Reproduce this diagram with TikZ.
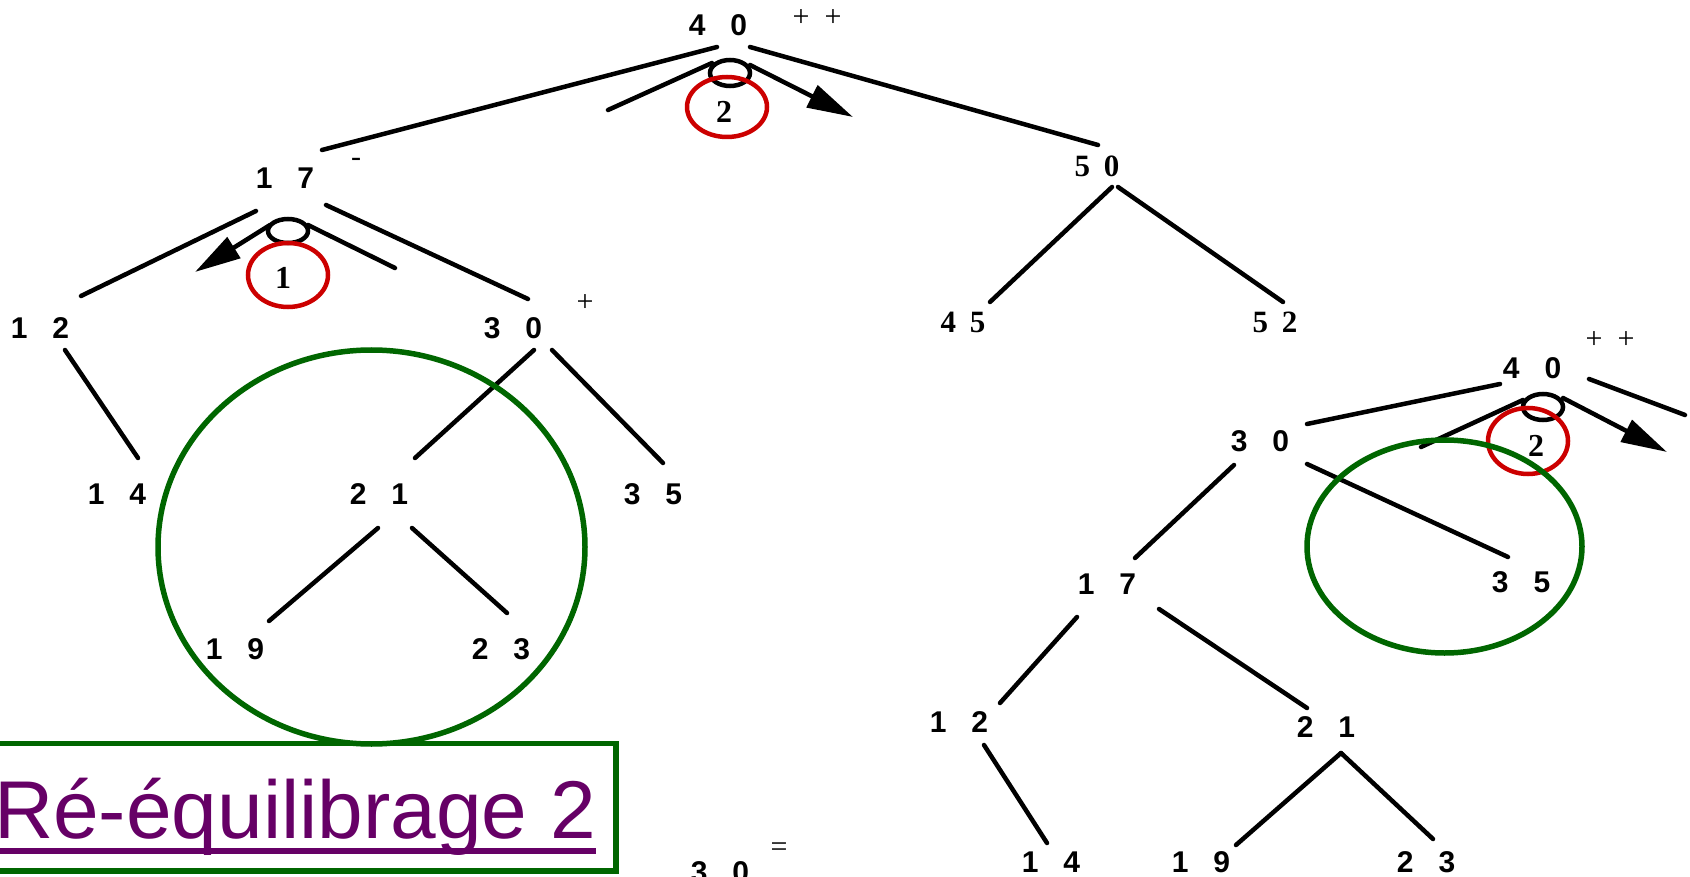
\documentclass[tikz,border=0pt]{standalone}
\usepackage{fontspec}
\setmainfont{Liberation Serif}
\newfontfamily\sansfam{Liberation Sans}
\usetikzlibrary{arrows.meta,calc}

\definecolor{treegreen}{RGB}{0,102,0}
\definecolor{rotred}{RGB}{204,0,0}
\definecolor{titlepurple}{RGB}{102,0,102}

% two-digit keys, digits set apart
\newcommand{\keypair}[2]{#1\hspace{25pt}#2}
\newcommand{\serifpair}[2]{#1\hspace{14pt}#2}

\tikzset{
  key/.style={inner sep=0pt, font=\sansfam\bfseries\fontsize{30}{31}\selectfont},
  skey/.style={inner sep=0pt, font=\bfseries\fontsize{31}{32}\selectfont},
  bal/.style={inner sep=0pt, font=\fontsize{30}{30}\selectfont},
  rotnum/.style={inner sep=0pt, font=\bfseries\fontsize{32}{33}\selectfont},
  edge/.style={line width=4.5pt, line cap=round},
  rotarrow/.style={line width=4.5pt, line cap=round, -{Triangle[length=46pt,width=24pt]}},
  pivot/.style={line width=4.5pt},
  redring/.style={draw=rotred, line width=4.5pt},
  greenring/.style={draw=treegreen, line width=5.5pt},
}

\begin{document}
\begin{tikzpicture}[x=1pt, y=-1pt]
\useasboundingbox (0,0) rectangle (1690,877);

% ---------------- first tree ----------------
\node[key] (n40) at (718,25)  {\keypair{4}{0}};
\node[key] (n17) at (285,178) {\keypair{1}{7}};
\node[key] (n12) at (40,328)  {\keypair{1}{2}};
\node[key] (n30) at (513,328) {\keypair{3}{0}};
\node[key] (n14) at (117,494) {\keypair{1}{4}};
\node[key] (n21) at (379,494) {\keypair{2}{1}};
\node[key] (n35) at (653,494) {\keypair{3}{5}};
\node[key] (n19) at (235,649) {\keypair{1}{9}};
\node[key] (n23) at (501,649) {\keypair{2}{3}};
\node[skey] (n50) at (1097,166) {\serifpair{5}{0}};
\node[skey] (n45) at (963,322)  {\serifpair{4}{5}};
\node[skey] (n52) at (1275,322) {\serifpair{5}{2}};

% balance marks
\node[bal] (b40) at (817,18)  {+\hspace{15pt}+};
\node[bal] (b17) at (356,162) {-};
\node[bal] (b30) at (585,303) {+};

% edge end points
\coordinate (e40a) at (717,47);   \coordinate (e17a) at (322,150);
\coordinate (e40b) at (750,47);   \coordinate (e50a) at (1098,145);
\coordinate (e17b) at (256,211);  \coordinate (e12a) at (81,296);
\coordinate (e17c) at (326,205);  \coordinate (e30a) at (528,299);
\coordinate (e12b) at (65,350);   \coordinate (e14a) at (138,458);
\coordinate (e30b) at (534,350);  \coordinate (e21a) at (415,458);
\coordinate (e30c) at (552,350);  \coordinate (e35a) at (663,463);
\coordinate (e21b) at (378,528);  \coordinate (e19a) at (269,621);
\coordinate (e21c) at (412,528);  \coordinate (e23a) at (507,613);
\coordinate (e50b) at (1112,187); \coordinate (e45a) at (990,302);
\coordinate (e50c) at (1118,187); \coordinate (e52a) at (1283,302);

\draw[edge] (e40a) -- (e17a);
\draw[edge] (e40b) -- (e50a);
\draw[edge] (e17b) -- (e12a);
\draw[edge] (e17c) -- (e30a);
\draw[edge] (e12b) -- (e14a);
\draw[edge] (e30b) -- (e21a);
\draw[edge] (e30c) -- (e35a);
\draw[edge] (e21b) -- (e19a);
\draw[edge] (e21c) -- (e23a);
\draw[edge] (e50b) -- (e45a);
\draw[edge] (e50c) -- (e52a);

% rotation at the root
\coordinate (p40) at (730,73);
\coordinate (r40a) at (712,63);  \coordinate (r40b) at (608,110);
\coordinate (r40c) at (750,65);  \coordinate (r40d) at (853,117);
\draw[edge] (r40a) -- (r40b);
\draw[pivot] (p40) ellipse [x radius=20pt, y radius=13pt];
\draw[rotarrow] (r40c) -- (r40d);
\node[rotnum] (k40) at (724,112) {2};
\draw[redring] (727,107) ellipse [x radius=40pt, y radius=30pt];

% rotation at 17
\coordinate (p17) at (288,231);
\coordinate (r17a) at (308,225); \coordinate (r17b) at (395,268);
\coordinate (r17c) at (270,225); \coordinate (r17d) at (195,272);
\draw[edge] (r17a) -- (r17b);
\draw[pivot] (p17) ellipse [x radius=20pt, y radius=12pt];
\draw[rotarrow] (r17c) -- (r17d);
\node[rotnum] (k17) at (283,278) {1};
\draw[redring] (288,275) ellipse [x radius=40pt, y radius=32pt];

% subtree moved by the double rotation
\draw[greenring] (371.5,547) ellipse [x radius=213.5pt, y radius=197pt];

% ---------------- second tree ----------------
\node[key] (m40) at (1532,368) {\keypair{4}{0}};
\node[key] (m30) at (1260,441) {\keypair{3}{0}};
\node[key] (m17) at (1107,584) {\keypair{1}{7}};
\node[key] (m35) at (1521,582) {\keypair{3}{5}};
\node[key] (m12) at (959,722)  {\keypair{1}{2}};
\node[key] (m21) at (1326,727) {\keypair{2}{1}};
\node[key] (m14) at (1051,862) {\keypair{1}{4}};
\node[key] (m19) at (1201,862) {\keypair{1}{9}};
\node[key] (m23) at (1426,862) {\keypair{2}{3}};
\node[bal] (c40) at (1610,340) {+\hspace{15pt}+};

\coordinate (f40a) at (1500,384); \coordinate (f30a) at (1307,424);
\coordinate (f40b) at (1589,379); \coordinate (f40x) at (1685,415);
\coordinate (f30b) at (1234,465); \coordinate (f17a) at (1135,558);
\coordinate (f30c) at (1307,464); \coordinate (f35a) at (1508,557);
\coordinate (f17b) at (1077,617); \coordinate (f12a) at (1000,703);
\coordinate (f17c) at (1159,609); \coordinate (f21a) at (1307,708);
\coordinate (f12b) at (984,745);  \coordinate (f14a) at (1047,843);
\coordinate (f21b) at (1341,753); \coordinate (f19a) at (1236,845);
\coordinate (f23a) at (1433,839);

\draw[edge] (f40a) -- (f30a);
\draw[edge] (f40b) -- (f40x);
\draw[edge] (f30b) -- (f17a);
\draw[edge] (f30c) -- (f35a);
\draw[edge] (f17b) -- (f12a);
\draw[edge] (f17c) -- (f21a);
\draw[edge] (f12b) -- (f14a);
\draw[edge] (f21b) -- (f19a);
\draw[edge] (f21b) -- (f23a);

% rotation at the root of the second tree
\coordinate (q40) at (1543,407);
\coordinate (s40a) at (1523,400); \coordinate (s40b) at (1421,447);
\coordinate (s40c) at (1563,398); \coordinate (s40d) at (1667,452);
\draw[edge] (s40a) -- (s40b);
\draw[pivot] (q40) ellipse [x radius=20pt, y radius=13pt];
\draw[rotarrow] (s40c) -- (s40d);
\node[rotnum] (k40b) at (1536,446) {2};
\draw[redring] (1528,441) ellipse [x radius=40pt, y radius=33pt];

\draw[greenring] (1444.5,546.5) ellipse [x radius=137.5pt, y radius=106.5pt];

% ---------------- caption ----------------
\node[anchor=base west, inner sep=0pt, text=titlepurple,
      font=\sansfam\fontsize{82}{82}\selectfont] (title) at (-6,838) {Ré-équilibrage 2};
\draw[titlepurple, line width=6pt] ($(title.base west)+(0,13)$) -- ($(title.base east)+(0,13)$);
\draw[greenring] (-20,743.5) rectangle (616,871);

\node[key] (t30) at (720,872) {\keypair{3}{0}};
\node[bal] (t30b) at (779,850) {=};

\end{tikzpicture}
\end{document}
